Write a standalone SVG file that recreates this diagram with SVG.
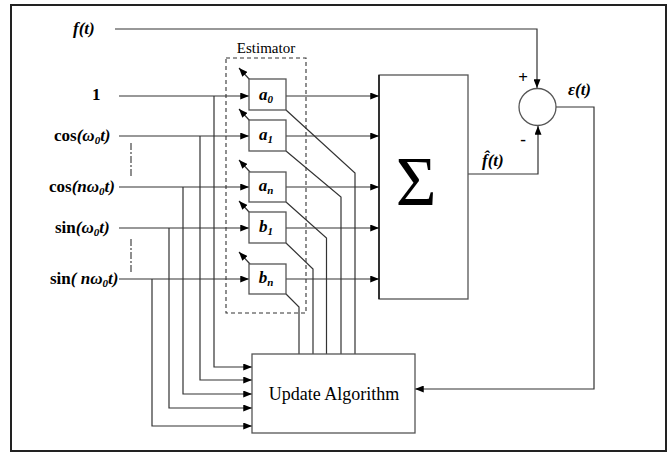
<svg xmlns="http://www.w3.org/2000/svg" width="672" height="452" viewBox="0 0 672 452">
<style>
.ln{fill:none;stroke:#333;stroke-width:1.2}
.bx{fill:#fff;stroke:#555;stroke-width:1.3}
.lbl{font-family:"Liberation Serif","Times New Roman",serif;font-weight:bold;font-size:17px;fill:#000}
.it{font-style:italic}
.sub{font-size:11px}
.reg{font-family:"Liberation Serif","Times New Roman",serif;fill:#000}
</style>
<defs>
<marker id="ah" viewBox="0 0 10 8" refX="10" refY="4" markerWidth="9" markerHeight="7" markerUnits="userSpaceOnUse" orient="auto">
<path d="M0,0 L10,4 L0,8 Z" fill="#000"/>
</marker>
</defs>
<rect x="11" y="5" width="655" height="446" fill="#fff" stroke="#222" stroke-width="2"/>

<g id="labels">
<text class="lbl it" x="73" y="34">f(t)</text>
<text class="lbl" x="92" y="100">1</text>
<text class="lbl" x="54" y="141">cos<tspan class="it">(ω<tspan class="sub" dy="3">0</tspan><tspan dy="-3">t)</tspan></tspan></text>
<text class="lbl" x="49" y="192">cos<tspan class="it">(nω<tspan class="sub" dy="3">0</tspan><tspan dy="-3">t)</tspan></tspan></text>
<text class="lbl" x="55" y="233">sin<tspan class="it">(ω<tspan class="sub" dy="3">0</tspan><tspan dy="-3">t)</tspan></tspan></text>
<text class="lbl" x="50" y="284">sin<tspan class="it">( nω<tspan class="sub" dy="3">0</tspan><tspan dy="-3">t)</tspan></tspan></text>
</g>

<g id="connectors">
<polyline class="ln" points="115,29 537,29 537,88" marker-end="url(#ah)"/>
<line class="ln" x1="119" y1="96" x2="249" y2="96" marker-end="url(#ah)"/>
<line class="ln" x1="119" y1="136" x2="249" y2="136" marker-end="url(#ah)"/>
<line class="ln" x1="119" y1="187" x2="249" y2="187" marker-end="url(#ah)"/>
<line class="ln" x1="119" y1="228" x2="249" y2="228" marker-end="url(#ah)"/>
<line class="ln" x1="119" y1="279" x2="249" y2="279" marker-end="url(#ah)"/>
<line x1="131" y1="143" x2="131" y2="177" stroke="#444" stroke-width="1.2" stroke-dasharray="7 2 2 2"/>
<line x1="131" y1="239" x2="131" y2="273" stroke="#444" stroke-width="1.2" stroke-dasharray="7 2 2 2"/>
<polyline class="ln" points="214,96 214,367 252,367" marker-end="url(#ah)"/>
<polyline class="ln" points="200,136 200,380 252,380" marker-end="url(#ah)"/>
<polyline class="ln" points="183,187 183,394 252,394" marker-end="url(#ah)"/>
<polyline class="ln" points="169,228 169,408 252,408" marker-end="url(#ah)"/>
<polyline class="ln" points="152,279 152,426 252,426" marker-end="url(#ah)"/>
<line class="ln" x1="286" y1="96" x2="379" y2="96" marker-end="url(#ah)"/>
<line class="ln" x1="286" y1="136" x2="379" y2="136" marker-end="url(#ah)"/>
<line class="ln" x1="286" y1="187" x2="379" y2="187" marker-end="url(#ah)"/>
<line class="ln" x1="286" y1="228" x2="379" y2="228" marker-end="url(#ah)"/>
<line class="ln" x1="286" y1="279" x2="379" y2="279" marker-end="url(#ah)"/>
<line class="ln" x1="250" y1="80" x2="239" y2="68" marker-end="url(#ah)"/>
<line class="ln" x1="250" y1="121" x2="239" y2="109" marker-end="url(#ah)"/>
<line class="ln" x1="250" y1="172" x2="239" y2="160" marker-end="url(#ah)"/>
<line class="ln" x1="250" y1="213" x2="239" y2="201" marker-end="url(#ah)"/>
<line class="ln" x1="250" y1="264" x2="239" y2="252" marker-end="url(#ah)"/>
<polyline class="ln" points="286,110 355,173 355,354"/>
<polyline class="ln" points="286,151 341,197 341,354"/>
<polyline class="ln" points="286,202 326.5,238 326.5,354"/>
<polyline class="ln" points="286,243 313,269 313,354"/>
<polyline class="ln" points="286,294 299,307 299,354"/>
<polyline class="ln" points="468,174 538,174 538,126" marker-end="url(#ah)"/>
<polyline class="ln" points="556,107 594,107 594,389 415,389" marker-end="url(#ah)"/>
</g>

<g id="estimator">
<rect x="226" y="58" width="80" height="255" fill="none" stroke="#333" stroke-width="1.1" stroke-dasharray="4 3"/>
<text class="reg" x="266" y="53" font-size="15" text-anchor="middle">Estimator</text>
</g>

<g id="a0">
<rect class="bx" x="249" y="79" width="37" height="31"/>
<text class="lbl it" x="266" y="100" text-anchor="middle">a<tspan class="sub" dy="3">0</tspan></text>
</g>
<g id="a1">
<rect class="bx" x="249" y="120" width="37" height="31"/>
<text class="lbl it" x="266" y="140" text-anchor="middle">a<tspan class="sub" dy="3">1</tspan></text>
</g>
<g id="an">
<rect class="bx" x="249" y="172" width="37" height="30"/>
<text class="lbl it" x="266" y="191" text-anchor="middle">a<tspan class="sub" dy="3">n</tspan></text>
</g>
<g id="b1">
<rect class="bx" x="249" y="212" width="37" height="31"/>
<text class="lbl it" x="266" y="232" text-anchor="middle">b<tspan class="sub" dy="3">1</tspan></text>
</g>
<g id="bn">
<rect class="bx" x="249" y="264" width="37" height="30"/>
<text class="lbl it" x="266" y="283" text-anchor="middle">b<tspan class="sub" dy="3">n</tspan></text>
</g>

<g id="sum">
<rect class="bx" x="379" y="75" width="89" height="224"/>
<line x1="379" y1="75" x2="379" y2="299" stroke="#000" stroke-width="1.3"/>
<text class="reg" x="416" y="205" font-size="70" text-anchor="middle">Σ</text>
</g>

<g id="junction">
<circle cx="537.5" cy="107" r="18.5" fill="#fff" stroke="#555" stroke-width="1.3"/>
<text class="lbl" x="523" y="83" font-size="16" text-anchor="middle">+</text>
<text class="lbl" x="523" y="145" font-size="16" text-anchor="middle">-</text>
<text class="lbl it" x="568" y="95" font-size="16">ε(t)</text>
<text class="lbl it" x="482" y="166" font-size="16">f̂(t)</text>
</g>

<g id="update">
<rect class="bx" x="252" y="354" width="163" height="79"/>
<text class="reg" x="334" y="400" font-size="18" text-anchor="middle">Update Algorithm</text>
</g>
</svg>
